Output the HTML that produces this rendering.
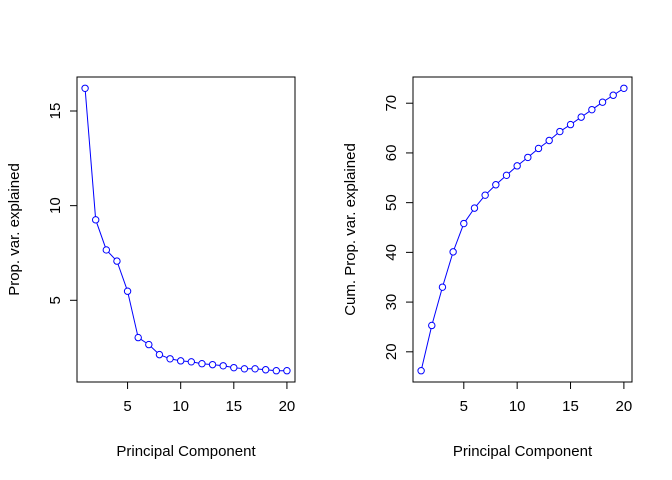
<!DOCTYPE html>
<html><head><meta charset="utf-8"><style>
body{margin:0;background:#fff;}
svg{display:block;font-family:"Liberation Sans",Arial,sans-serif;}
</style></head><body>
<svg id="c" width="672" height="480"></svg>
<script>
const components = [1,2,3,4,5,6,7,8,9,10,11,12,13,14,15,16,17,18,19,20];
const propVar = [16.2,9.25,7.66,7.07,5.48,3.03,2.66,2.13,1.91,1.8,1.75,1.65,1.6,1.54,1.44,1.38,1.38,1.33,1.28,1.28];
const cumVar = [16.2,25.3,33.0,40.1,45.8,48.9,51.5,53.6,55.5,57.4,59.1,60.9,62.5,64.3,65.7,67.2,68.7,70.2,71.6,73.0];
const xTicks = [5,10,15,20];
const yTicksLeft = [5,10,15];
const yTicksRight = [20,30,40,50,60,70];

const NS="http://www.w3.org/2000/svg";
const svg=document.getElementById('c');
function mk(tag,attrs,parent){const e=document.createElementNS(NS,tag);for(const k in attrs)e.setAttribute(k,attrs[k]);(parent||svg).appendChild(e);return e;}

function panel(name,box,vals,yTicks,ylab){
  const g=mk('g',{});
  
  
  const n=components.length;
  const xmin=components[0], xmax=components[n-1];
  const ymin=Math.min(...vals), ymax=Math.max(...vals);
  const xr=xmax-xmin, yr=ymax-ymin;
  const dx0=xmin-0.04*xr, dx1=xmax+0.04*xr, dy0=ymin-0.04*yr, dy1=ymax+0.04*yr;
  const sx=v=>box.x0+(v-dx0)/(dx1-dx0)*(box.x1-box.x0);
  const sy=v=>box.y1-(v-dy0)/(dy1-dy0)*(box.y1-box.y0);
  const fr=mk('rect',{x:box.x0,y:box.y0,width:box.x1-box.x0,height:box.y1-box.y0,fill:'none',stroke:'#000','stroke-width':1},g);
  
  
  const xa=mk('g',{},g);
  
  
  mk('line',{x1:sx(xTicks[0]),x2:sx(xTicks[xTicks.length-1]),y1:box.y1,y2:box.y1,stroke:'#000'},xa);
  xTicks.forEach(t=>{
    mk('line',{x1:sx(t),x2:sx(t),y1:box.y1,y2:box.y1+7,stroke:'#000'},xa);
    const tx=mk('text',{x:sx(t),y:box.y1+29,'text-anchor':'middle','font-size':15},xa);
    tx.textContent=t;
    
    
  });
  const ya=mk('g',{},g);
  
  
  mk('line',{x1:box.x0,x2:box.x0,y1:sy(yTicks[0]),y2:sy(yTicks[yTicks.length-1]),stroke:'#000'},ya);
  yTicks.forEach(t=>{
    mk('line',{x1:box.x0,x2:box.x0-7,y1:sy(t),y2:sy(t),stroke:'#000'},ya);
    const tx=mk('text',{x:box.x0-17,y:sy(t),'text-anchor':'middle','font-size':15,transform:`rotate(-90 ${box.x0-17} ${sy(t)})`},ya);
    tx.textContent=t;
    
    
  });
  const xt=mk('text',{x:(box.x0+box.x1)/2,y:456,'text-anchor':'middle','font-size':15},g);
  xt.textContent='Principal Component';
  
  
  const yx=box.x0-58, yy=(box.y0+box.y1)/2;
  const yt=mk('text',{x:yx,y:yy,'text-anchor':'middle','font-size':15,transform:`rotate(-90 ${yx} ${yy})`},g);
  yt.textContent=ylab;
  
  
  const pts=components.map((c,i)=>sx(c)+','+sy(vals[i])).join(' ');
  const ln=mk('polyline',{points:pts,fill:'none',stroke:'#0000ff','stroke-width':1},g);
  
  
  components.forEach((c,i)=>{
    const p=mk('circle',{cx:sx(c),cy:sy(vals[i]),r:3.2,fill:'#fff',stroke:'#0000ff','stroke-width':1},g);
    
    
  });
}
panel('prop-var-chart',{x0:77,x1:295,y0:77,y1:382},propVar,yTicksLeft,'Prop. var. explained');
panel('cum-prop-var-chart',{x0:413,x1:632,y0:77,y1:382},cumVar,yTicksRight,'Cum. Prop. var. explained');
</script>
</body></html>
